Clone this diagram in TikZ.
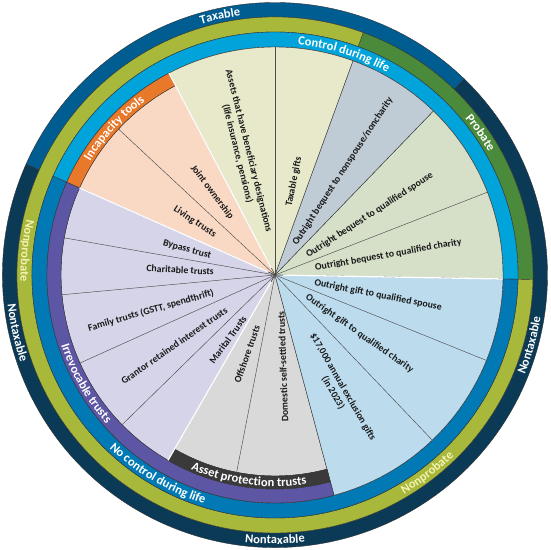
\documentclass[tikz,border=0pt]{standalone}
\usepackage{fontspec}
\setmainfont{Carlito}
\usetikzlibrary{decorations.text}

\definecolor{nontaxable}{HTML}{0B3A56}
\definecolor{taxable}{HTML}{005D91}
\definecolor{probate}{HTML}{4C8A3B}
\definecolor{nonprobate}{HTML}{A8B83B}
\definecolor{control}{HTML}{00A3DA}
\definecolor{nocontrol}{HTML}{0079B4}
\definecolor{incapacity}{HTML}{E8782A}
\definecolor{irrevocable}{HTML}{5D56A5}
\definecolor{assetprot}{HTML}{3A3A3A}
\definecolor{peach}{HTML}{FAD9C4}
\definecolor{beige}{HTML}{E7E9CA}
\definecolor{slate}{HTML}{BFCBD5}
\definecolor{sage}{HTML}{D6E0C9}
\definecolor{sky}{HTML}{BCDCEE}
\definecolor{lavender}{HTML}{D6D4E9}
\definecolor{stone}{HTML}{D9D9D9}
\definecolor{paleyellow}{HTML}{F3F2B5}

\newcommand{\ringfont}{\bfseries\fontsize{12.5}{12.5}\selectfont}
% fill, from, to, inner radius, outer radius
\newcommand{\ringseg}[5]{%
  \filldraw[seg, fill=#1] (#2:#5) arc[start angle=#2, end angle=#3, radius=#5]
    -- (#3:#4) arc[start angle=#3, end angle=#2, radius=#4] -- cycle;}
% fill, from, to, radius
\newcommand{\pieslice}[4]{%
  \filldraw[seg, fill=#1] (0,0) -- (#2:#4) arc[start angle=#2, end angle=#3, radius=#4] -- cycle;}
% colour, angle, baseline radius, text
\newcommand{\cwlabel}[4]{%
  \path[decorate, decoration={text along path, text align=center, text color=#1,
    text={|\ringfont|#4}}] (#2+45:#3) arc[start angle=#2+45, end angle=#2-45, radius=#3];}
\newcommand{\ccwlabel}[4]{%
  \path[decorate, decoration={text along path, text align=center, text color=#1,
    text={|\ringfont|#4}}] (#2-45:#3) arc[start angle=#2-45, end angle=#2+45, radius=#3];}

\begin{document}
\begin{tikzpicture}[x=1pt, y=1pt,
  seg/.style={draw=black!80, line width=0.4pt},
  div/.style={draw=black!70, line width=0.45pt},
  gap/.style={draw=white, line width=1.3pt},
  lbl/.style={font=\bfseries\fontsize{9.8}{11.5}\selectfont, text=black!90, align=center, inner sep=0pt}
]
  \useasboundingbox (-275,-275) rectangle (275,275);
  \coordinate (c) at (0,0);
  % outer rings
  \ringseg{taxable}{46}{156}{258}{272.5}
  \ringseg{nontaxable}{156}{406}{258}{272.5}
  \ringseg{probate}{-1}{70}{243}{258}
  \ringseg{nonprobate}{70}{359}{243}{258}
  \ringseg{control}{-1}{156}{228}{243}
  \ringseg{nocontrol}{156}{359}{228}{243}
  % wedges
  \pieslice{sage}{-1}{46}{228}
  \pieslice{slate}{46}{70}{228}
  \pieslice{beige}{70}{117.7}{228}
  \pieslice{peach}{117.7}{156}{214}
  \pieslice{lavender}{156}{240}{214}
  \pieslice{stone}{240}{285}{201}
  \pieslice{sky}{285}{359}{228}
  % inner bands
  \ringseg{incapacity}{117.7}{156}{214}{228}
  \ringseg{irrevocable}{156}{285}{214}{228}
  \ringseg{assetprot}{240}{285}{201}{214}
  % dividers
  \foreach \a/\r in {137/214, 90/228, 21.3/228, 170/214, 185.3/214, 204.3/214,
                     224.4/214, 259/201, 313.6/228, 338/228}
    \draw[div] (c) -- (\a:\r);
  \foreach \a/\r in {-1/228, 117.7/228, 156/214, 240/214}
    \draw[gap] (\a:8) -- (\a:\r);

  % ring labels
  \cwlabel{white}{102}{261.5}{Taxable}
  \ccwlabel{white}{-15.4}{269}{Nontaxable}
  \ccwlabel{white}{270}{269}{Nontaxable}
  \ccwlabel{white}{192.6}{269}{Nontaxable}
  \cwlabel{white}{34.7}{246.5}{Probate}
  \ccwlabel{paleyellow}{174.5}{254.5}{Nonprobate}
  \ccwlabel{paleyellow}{-52.4}{254.5}{Nonprobate}
  \cwlabel{white}{72.7}{231.5}{Control during life}
  \ccwlabel{white}{239.5}{239.5}{No control during life}
  \cwlabel{white}{137.6}{217}{Incapacity tools}
  \ccwlabel{white}{209.8}{225}{Irrevocable trusts}
  \ccwlabel{white}{262.6}{211.5}{Asset protection trusts}

  % slice labels
  \node[lbl, rotate=-52.8] (joint) at (127.2:104) {Joint ownership};
  \node[lbl, rotate=-33.5] (living) at (146.5:96) {Living trusts};
  \node[lbl, rotate=-76] (assets) at (104.6:127) {Assets that have beneficiary designations\\(life insurance, pensions)};
  \node[lbl, rotate=78.5] (taxgifts) at (78.5:95) {Taxable gifts};
  \node[lbl, rotate=56.8] (nonspouse) at (56.8:124) {Outright bequest to nonspouse/noncharity};
  \node[lbl, rotate=33] (bqspouse) at (32.3:112) {Outright bequest to qualified spouse};
  \node[lbl, rotate=10] (bqcharity) at (10:115) {Outright bequest to qualified charity};
  \node[lbl, rotate=-11] (gfspouse) at (-11:105) {Outright gift to qualified spouse};
  \node[lbl, rotate=-35] (gfcharity) at (-34.8:103) {Outright gift to qualified charity};
  \node[lbl, rotate=-60] (exclusion) at (-61.3:131) {\$17,000 annual exclusion gifts\\(in 2023)};
  \node[lbl, rotate=92] (domestic) at (275:92) {Domestic self-settled trusts};
  \node[lbl, rotate=70.5] (offshore) at (250.5:84) {Offshore trusts};
  \node[lbl, rotate=54] (marital) at (234:80) {Marital Trusts};
  \node[lbl, rotate=35] (grantor) at (215:123) {Grantor retained interest trusts};
  \node[lbl, rotate=16] (family) at (196:129) {Family trusts (GSTT, spendthrift)};
  \node[lbl, rotate=-3] (charitable) at (177:95) {Charitable trusts};
  \node[lbl, rotate=-16] (bypass) at (164:91.5) {Bypass trust};
\end{tikzpicture}
\end{document}
